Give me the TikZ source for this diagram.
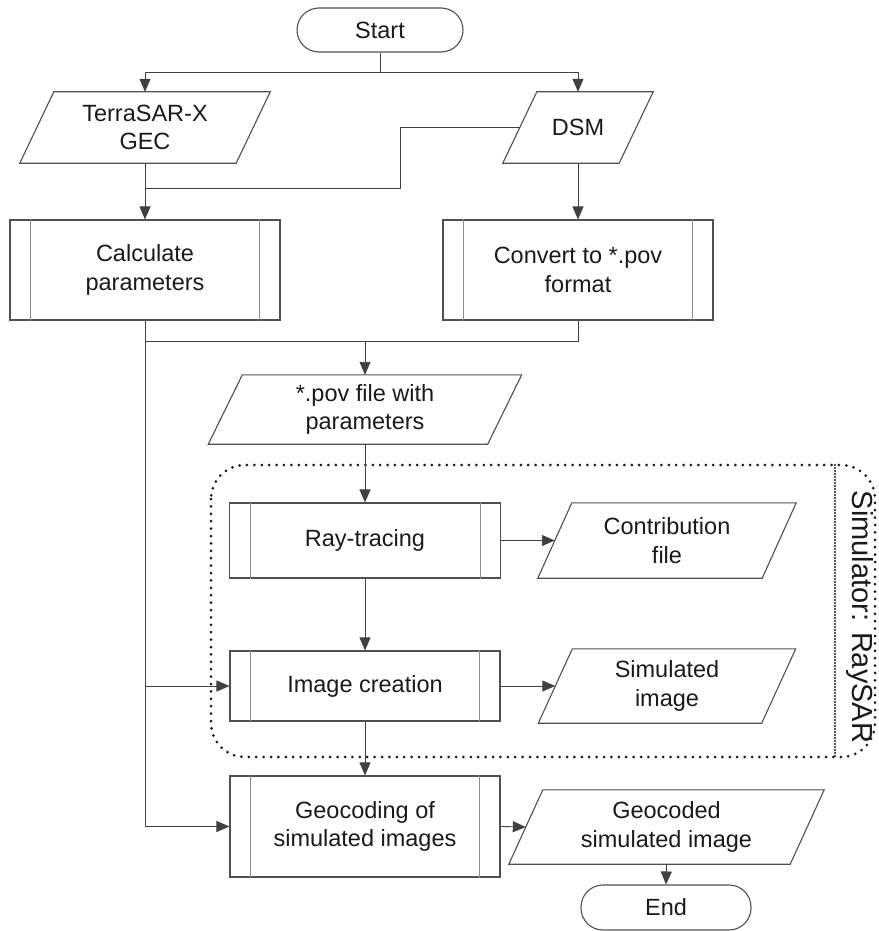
\documentclass[tikz,border=0pt]{standalone}
\usepackage{fontspec}
\setmainfont{Liberation Sans}
\usetikzlibrary{arrows.meta}

\definecolor{edge}{HTML}{505050}
\definecolor{inner}{HTML}{8A8A8A}
\definecolor{wire}{HTML}{404040}
\definecolor{ink}{HTML}{1A1A1A}

\tikzset{
  base/.style={inner sep=0pt, align=center, text=ink,
    font=\fontsize{23.5}{28.5}\selectfont},
  terminal/.style={base, draw=edge, line width=1.1pt, rounded corners=22pt},
  procbox/.style={base, draw=edge, line width=1.1pt},
  iobox/.style={base},
  arr/.style={draw=wire, line width=0.9pt, -{Triangle[length=13pt,width=11pt]}},
  wireline/.style={draw=wire, line width=0.9pt},
}

\newcommand{\slantbox}[1]{%
  \draw[edge, line width=1.1pt]
    ([xshift=17pt]#1.north west) -- ([xshift=17pt]#1.north east)
    -- ([xshift=-17pt]#1.south east) -- ([xshift=-17pt]#1.south west) -- cycle;}
\newcommand{\sidebars}[1]{%
  \draw[inner, line width=0.9pt] ([xshift=21pt]#1.north west) -- ([xshift=21pt]#1.south west);
  \draw[inner, line width=0.9pt] ([xshift=-21pt]#1.north east) -- ([xshift=-21pt]#1.south east);}

\begin{document}
\begin{tikzpicture}[x=1pt, y=-1pt]
\useasboundingbox (0,0) rectangle (878,931);

% terminals
\node[terminal, minimum width=166pt, minimum height=44pt] (start) at (380,30) {Start};
\node[terminal, minimum width=170pt, minimum height=45pt] (end) at (666,907.5) {End};

% inputs
\node[iobox, minimum width=216pt, minimum height=71pt] (tsx) at (145,127.5) {TerraSAR-X\\GEC};
\node[iobox, minimum width=116pt, minimum height=71pt] (dsm) at (578,127.5) {DSM};

% preprocessing
\node[procbox, minimum width=270pt, minimum height=100pt] (calc) at (145,270) {Calculate\\parameters};
\node[procbox, minimum width=270pt, minimum height=100pt] (conv) at (578,270) {Convert to *.pov\\format};

\node[iobox, minimum width=279pt, minimum height=69pt] (pov) at (365,409.5) {*.pov file with\\parameters};

% simulator steps
\node[procbox, minimum width=271pt, minimum height=75pt] (ray) at (365,540.5) {Ray-tracing};
\node[iobox, minimum width=224pt, minimum height=75pt] (contrib) at (667,540.5) {Contribution\\file};
\node[procbox, minimum width=270pt, minimum height=70pt] (img) at (365,686) {Image creation};
\node[iobox, minimum width=223pt, minimum height=74pt] (sim) at (667,686) {Simulated\\image};

% geocoding
\node[procbox, minimum width=270pt, minimum height=101pt] (geo) at (365,826.5) {Geocoding of\\simulated images};
\node[iobox, minimum width=281pt, minimum height=74pt] (geocoded) at (666.5,827) {Geocoded\\simulated image};

% outlines of data shapes and process side bars
\foreach \n in {tsx,dsm,pov,contrib,sim,geocoded} {\slantbox{\n}}
\foreach \n in {calc,conv,ray,img,geo} {\sidebars{\n}}

% simulator frame
\draw[ink, line width=3pt, line cap=round, dash pattern=on 0pt off 7.4pt, rounded corners=34pt]
  (211,465) rectangle (875,757);
\draw[ink, line width=2.2pt, line cap=round, dash pattern=on 0pt off 3pt] (835,465) -- (835,757);
\node[base, font=\fontsize{29}{34}\selectfont, rotate=-90, anchor=base] (simlabel) at (852,617) {Simulator: RaySAR};

% connectors
\coordinate (fork) at (380,72);
\draw[wireline] (start.south) -- (fork);
\draw[arr] (fork) -| (tsx.north);
\draw[arr] (fork) -| (dsm.north);

\coordinate (kink) at (400,188);
\coordinate (merge) at (145,188);
\draw[wireline] (dsm.west) -| (kink) -- (merge);
\draw[arr] (tsx.south) -- (calc.north);
\draw[arr] (dsm.south) -- (conv.north);

\coordinate (busL) at (145,341);
\coordinate (busR) at (578,341);
\coordinate (busM) at (365,341);
\draw[wireline] (calc.south) -- (busL) -- (busR) -- (conv.south);
\draw[arr] (busM) -- (pov.north);

\draw[arr] (busL) |- (geo.west);
\coordinate (branch) at (busL |- img.west);
\draw[arr] (branch) -- (img.west);

\draw[arr] (pov.south) -- (ray.north);
\draw[arr] (ray.east) -- (contrib.west);
\draw[arr] (ray.south) -- (img.north);
\draw[arr] (img.east) -- (sim.west);
\draw[arr] (img.south) -- (geo.north);
\draw[arr] (geo.east) -- (geocoded.west);
\draw[arr] (geocoded.south) -- (end.north);
\end{tikzpicture}
\end{document}
